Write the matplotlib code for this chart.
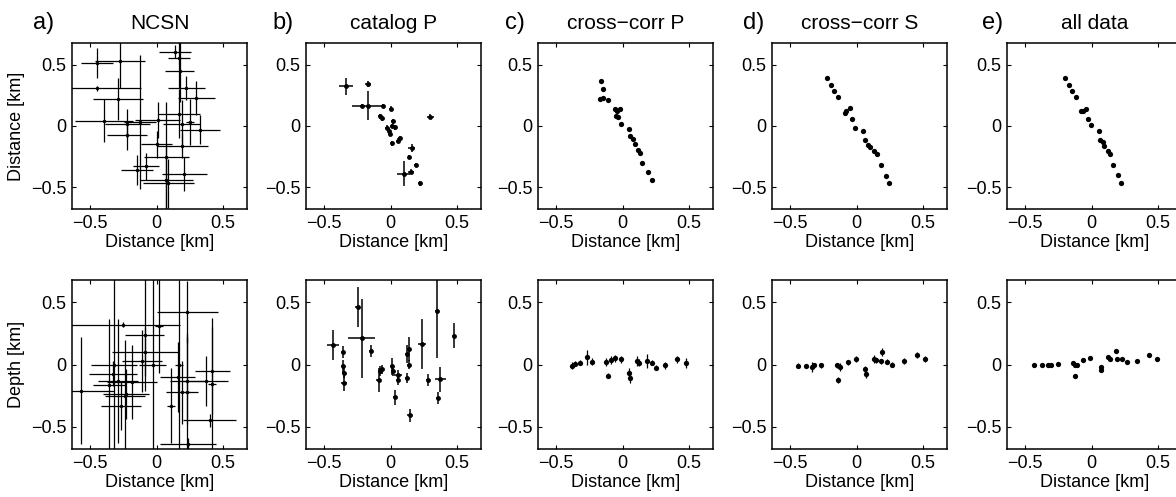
import matplotlib.pyplot as plt

plt.rcParams['font.family'] = ['Liberation Sans', 'DejaVu Sans']

# a) NCSN catalog, map view and depth section
ncsn_map_x = [-0.45, -0.275, -0.29, -0.395, -0.22, -0.22, -0.125, 0.01, 0.0, 0.075, -0.08, -0.15, 0.075,
              0.09, 0.21, 0.14, 0.17, 0.175, 0.3, 0.325, 0.195, 0.17, 0.19, 0.225, 0.25, -0.45]
ncsn_map_y = [0.515, 0.53, 0.22, 0.045, 0.02, -0.075, 0.03, 0.05, -0.15, -0.25, -0.33, -0.36, -0.44,
              -0.47, -0.39, 0.61, 0.56, 0.45, 0.23, -0.03, -0.16, 0.1, 0.02, 0.31, 0.035, 0.31]
ncsn_map_xerr = [0.12, 0.19, 0.19, 0.22, 0.17, 0.15, 0.12, 0.17, 0.12, 0.17, 0.1, 0.12, 0.2,
                 0.19, 0.17, 0.12, 0.08, 0.11, 0.14, 0.15, 0.19, 0.16, 0.14, 0.14, 0.03, 0.33]
ncsn_map_yerr = [0.125, 0.22, 0.17, 0.18, 0.12, 0.12, 0.55, 0.15, 0.11, 0.45, 0.11, 0.12, 0.3,
                 0.2, 0.14, 0.05, 0.25, 0.25, 0.14, 0.12, 0.1, 0.2, 0.19, 0.1, 0.19, 0.02]

ncsn_dep_x = [-0.57, -0.25, -0.32, -0.36, -0.29, -0.235, -0.09, -0.03, 0.02, 0.17, 0.23, -0.084, -0.11,
              -0.33, -0.185, -0.23, -0.27, 0.16, 0.23, 0.19, 0.106, 0.42, 0.37, 0.4, 0.42, 0.24, 0.23]
ncsn_dep_y = [-0.21, 0.32, 0.0, -0.165, -0.13, -0.25, 0.24, 0.0, 0.31, 0.0, 0.42, 0.104, 0.025,
              -0.074, -0.14, -0.24, -0.33, -0.1, -0.13, -0.225, -0.33, -0.05, -0.13, -0.45, -0.155, -0.64, -0.22]
ncsn_dep_xerr = [0.25, 0.43, 0.17, 0.12, 0.15, 0.15, 0.15, 0.1, 0.03, 0.03, 0.23, 0.25, 0.15,
                 0.18, 0.19, 0.17, 0.15, 0.13, 0.13, 0.12, 0.03, 0.13, 0.17, 0.2, 0.03, 0.21, 0.02]
ncsn_dep_yerr = [0.43, 0.02, 0.75, 0.53, 0.5, 0.45, 0.45, 0.75, 0.38, 0.68, 0.25, 0.2, 0.25,
                 0.1, 0.3, 0.2, 0.2, 0.28, 0.35, 0.25, 0.3, 0.35, 0.2, 0.05, 0.53, 0.05, 0.47]

# b) catalog P picks
cat_map_x = [-0.335, -0.17, -0.166, -0.217, -0.053, 0.005, -0.065, 0.3, 0.01, 0.035, -0.015, -0.005,
             0.01, 0.06, 0.07, 0.16, 0.14, 0.19, 0.1, 0.155, 0.225, -0.03, 0.02, -0.08]
cat_map_y = [0.325, 0.345, 0.167, 0.167, 0.167, 0.14, 0.064, 0.075, 0.0, -0.01, -0.04, -0.065,
             -0.14, -0.12, -0.1, -0.18, -0.25, -0.32, -0.39, -0.375, -0.47, -0.015, 0.04, 0.08]
cat_map_xerr = [0.05, 0.02, 0.12, 0.01, 0.01, 0.015, 0.015, 0.025, 0.015, 0.015, 0.015, 0.015,
                0.015, 0.015, 0.015, 0.025, 0.01, 0.01, 0.05, 0.02, 0.015, 0.015, 0.015, 0.015]
cat_map_yerr = [0.07, 0.025, 0.12, 0.015, 0.015, 0.02, 0.02, 0.02, 0.02, 0.02, 0.02, 0.02,
                0.02, 0.02, 0.02, 0.03, 0.015, 0.015, 0.1, 0.02, 0.02, 0.02, 0.02, 0.02]

cat_dep_x = [-0.435, -0.36, -0.355, -0.35, -0.35, -0.247, -0.217, -0.15, -0.09, -0.078, -0.065, 0.01,
             0.022, 0.035, 0.055, 0.055, 0.123, 0.136, 0.123, 0.14, 0.143, 0.237, 0.28, 0.35, 0.358,
             0.375, 0.48]
cat_dep_y = [0.16, 0.1, -0.015, -0.07, -0.15, 0.46, 0.21, 0.11, -0.125, -0.055, -0.04, -0.015,
             -0.055, -0.265, -0.085, -0.125, 0.083, 0.125, -0.11, 0.0, -0.41, 0.167, -0.125, 0.43, -0.27,
             -0.12, 0.23]
cat_dep_xerr = [0.045, 0.015, 0.015, 0.015, 0.02, 0.02, 0.1, 0.015, 0.02, 0.015, 0.015, 0.015,
                0.015, 0.015, 0.03, 0.015, 0.015, 0.015, 0.015, 0.015, 0.02, 0.03, 0.015, 0.015, 0.015,
                0.04, 0.015]
cat_dep_yerr = [0.12, 0.05, 0.05, 0.04, 0.06, 0.16, 0.32, 0.05, 0.1, 0.04, 0.04, 0.07,
                0.04, 0.06, 0.04, 0.04, 0.07, 0.1, 0.04, 0.04, 0.05, 0.2, 0.05, 0.38, 0.05,
                0.1, 0.1]

# c) cross-correlation P
ccp_map_x = [-0.162, -0.15, -0.17, -0.144, -0.106, -0.043, -0.018, -0.035, -0.01, 0.046, 0.058,
             0.076, 0.096, 0.12, 0.134, 0.147, 0.19, 0.223, -0.056, -0.05]
ccp_map_y = [0.37, 0.305, 0.22, 0.23, 0.214, 0.125, 0.139, 0.07, 0.014, -0.022, -0.083,
             -0.11, -0.15, -0.2, -0.22, -0.3, -0.38, -0.44, 0.139, 0.083]
ccp_map_err = [0.012, 0.008, 0.015, 0.012, 0.008, 0.01, 0.015, 0.008, 0.008, 0.008, 0.008,
               0.008, 0.008, 0.008, 0.008, 0.008, 0.008, 0.008, 0.01, 0.008]

ccp_dep_x = [-0.38, -0.36, -0.317, -0.265, -0.226, -0.122, -0.109, -0.09, -0.057, -0.013, 0.052,
             0.055, 0.106, 0.125, 0.184, 0.22, 0.255, 0.32, 0.41, 0.475]
ccp_dep_y = [-0.01, 0.005, 0.014, 0.06, 0.022, 0.02, -0.09, 0.036, 0.05, 0.042, -0.07,
             -0.11, 0.028, 0.014, 0.028, 0.014, -0.028, -0.008, 0.042, 0.014]
ccp_dep_xerr = [0.015, 0.01, 0.01, 0.015, 0.01, 0.015, 0.01, 0.015, 0.01, 0.015, 0.01,
                0.01, 0.015, 0.015, 0.015, 0.01, 0.01, 0.015, 0.01, 0.015]
ccp_dep_yerr = [0.03, 0.02, 0.02, 0.06, 0.03, 0.03, 0.02, 0.03, 0.03, 0.03, 0.04,
                0.04, 0.04, 0.03, 0.06, 0.02, 0.02, 0.03, 0.03, 0.04]

# d) cross-correlation S
ccs_map_x = [-0.218, -0.192, -0.172, -0.141, -0.077, -0.046, -0.031, -0.013, 0.051, 0.064, 0.09,
             0.103, 0.128, 0.154, 0.187, 0.223, 0.244, -0.09]
ccs_map_y = [0.394, 0.333, 0.29, 0.236, 0.125, 0.144, 0.056, -0.014, -0.042, -0.117, -0.153,
             -0.175, -0.208, -0.23, -0.32, -0.41, -0.47, 0.11]

ccs_dep_x = [-0.44, -0.38, -0.337, -0.32, -0.268, -0.145, -0.126, -0.137, -0.066, -0.005, 0.066,
             0.071, 0.13, 0.145, 0.184, 0.19, 0.23, 0.268, 0.355, 0.453, 0.513]
ccs_dep_y = [-0.01, -0.01, -0.02, -0.005, -0.005, -0.005, -0.02, -0.125, 0.017, 0.044, -0.04,
             -0.075, 0.044, 0.036, 0.028, 0.1, 0.022, 0.0, 0.028, 0.078, 0.044]
ccs_dep_yerr = [0.02, 0.015, 0.04, 0.02, 0.02, 0.02, 0.03, 0.025, 0.02, 0.025, 0.03,
                0.03, 0.03, 0.02, 0.02, 0.035, 0.02, 0.02, 0.025, 0.025, 0.025]

# e) all data combined
all_map_x = [-0.2, -0.17, -0.15, -0.12, -0.063, -0.038, -0.03, -0.005, 0.053, 0.063, 0.084,
             0.096, 0.122, 0.142, 0.16, 0.197, 0.223, -0.08]
all_map_y = [0.394, 0.333, 0.283, 0.236, 0.125, 0.139, 0.061, 0.006, -0.042, -0.111, -0.133,
             -0.167, -0.208, -0.228, -0.32, -0.403, -0.467, 0.125]

all_dep_x = [-0.43, -0.374, -0.326, -0.308, -0.255, -0.142, -0.124, -0.11, -0.124, -0.063, -0.01,
             0.068, 0.074, 0.126, 0.14, 0.184, 0.192, 0.226, 0.263, 0.342, 0.429, 0.495]
all_dep_y = [-0.006, 0.0, -0.008, 0.0, 0.008, 0.014, 0.0, 0.0, -0.089, 0.033, 0.05,
             -0.022, -0.042, 0.061, 0.042, 0.106, 0.042, 0.042, 0.019, 0.028, 0.078, 0.042]

letters = ['a)', 'b)', 'c)', 'd)', 'e)']
titles = ['NCSN', 'catalog P', 'cross\u2212corr P', 'cross\u2212corr S', 'all data']
ticks = [-0.5, 0, 0.5]
tick_labels = ['\u22120.5', '0', '0.5']

fig = plt.figure(figsize=(11.76, 4.97), dpi=100)

lefts = [72, 306, 538, 772, 1007]
letter_x = [33, 272, 505, 743, 982]
W, H = 1176, 497


def setup_axes(ax):
    ax.set_xlim(-0.635, 0.68)
    ax.set_ylim(-0.68, 0.68)
    ax.set_xticks(ticks)
    ax.set_yticks(ticks)
    ax.set_xticklabels(tick_labels)
    ax.set_yticklabels(tick_labels)
    ax.tick_params(direction='in', top=True, right=True, length=3, width=0.8,
                   labelsize=13, pad=4)
    for s in ax.spines.values():
        s.set_linewidth(1.1)
    ax.set_xlabel('Distance [km]', fontsize=13, labelpad=2)


def plot_points(ax, x, y, xerr=None, yerr=None, ms=3.5, lw=0.9):
    ax.errorbar(x, y, xerr=xerr, yerr=yerr, fmt='o', color='k', ms=ms,
                elinewidth=lw, capsize=0, mew=0)


top_axes = []
bot_axes = []
for i in range(5):
    l = lefts[i] / W
    top_axes.append(fig.add_axes([l, 1 - 209 / H, 175 / W, 166 / H]))
    bot_axes.append(fig.add_axes([l, 1 - 449 / H, 175 / W, 169 / H]))

plot_points(top_axes[0], ncsn_map_x, ncsn_map_y, ncsn_map_xerr, ncsn_map_yerr, ms=2.5, lw=0.9)
plot_points(bot_axes[0], ncsn_dep_x, ncsn_dep_y, ncsn_dep_xerr, ncsn_dep_yerr, ms=2.5, lw=0.9)
plot_points(top_axes[1], cat_map_x, cat_map_y, cat_map_xerr, cat_map_yerr, ms=3.5, lw=1.1)
plot_points(bot_axes[1], cat_dep_x, cat_dep_y, cat_dep_xerr, cat_dep_yerr, ms=3.5, lw=1.1)
plot_points(top_axes[2], ccp_map_x, ccp_map_y, ccp_map_err, ccp_map_err, ms=3.8)
plot_points(bot_axes[2], ccp_dep_x, ccp_dep_y, ccp_dep_xerr, ccp_dep_yerr, ms=3.8)
plot_points(top_axes[3], ccs_map_x, ccs_map_y, ms=3.8)
plot_points(bot_axes[3], ccs_dep_x, ccs_dep_y, yerr=ccs_dep_yerr, ms=3.8)
plot_points(top_axes[4], all_map_x, all_map_y, ms=3.8)
plot_points(bot_axes[4], all_dep_x, all_dep_y, ms=3.8)

for i in range(5):
    setup_axes(top_axes[i])
    setup_axes(bot_axes[i])
    top_axes[i].set_title(titles[i], fontsize=15, pad=10)
    fig.text(letter_x[i] / W, 1 - 29 / H, letters[i], fontsize=17, va='baseline', ha='left')

top_axes[0].set_ylabel('Distance [km]', fontsize=13, labelpad=4)
bot_axes[0].set_ylabel('Depth [km]', fontsize=13, labelpad=4)

fig.savefig('out.png', dpi=100)
